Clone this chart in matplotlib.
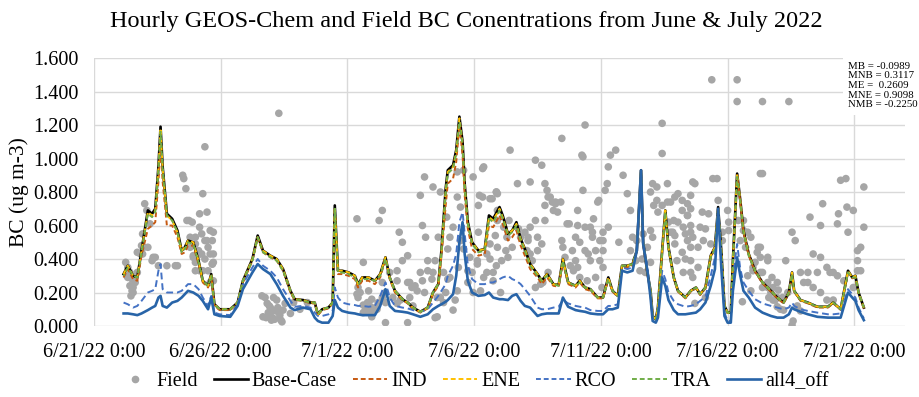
import matplotlib
matplotlib.use('Agg')
import matplotlib.pyplot as plt
import pandas as pd
from matplotlib.lines import Line2D

plt.rcParams['font.family'] = ['Liberation Serif', 'DejaVu Serif']

start = pd.Timestamp('2022-06-21 00:00')

# ---- model series (hours since 6/21/22 0:00) ----
model_hours = [28, 32, 37, 41, 45, 51, 55, 58, 61, 63,
               65, 69, 74, 79, 83, 86, 89, 94, 99, 103,
               108, 111, 114, 119, 129, 136, 141, 150, 155, 160,
               167, 173, 179, 186, 190, 198, 205, 209, 212, 216,
               222, 226, 228, 231, 235, 241, 247, 250, 254, 260,
               266, 271, 276, 280, 285, 292, 297, 302, 309, 316,
               321, 326, 329, 333, 335, 340, 343, 346, 349, 351,
               354, 358, 364, 370, 374, 378, 384, 387, 392, 396,
               400, 404, 408, 413, 420, 424, 429, 435, 440, 444,
               449, 456, 460, 465, 470, 477, 482, 487, 491, 496,
               500, 505, 510, 514, 518, 520, 524, 527, 529, 532,
               534, 538, 541, 544, 549, 553, 560, 565, 570, 574,
               579, 584, 588, 591, 594, 597, 600, 603, 605, 609,
               612, 615, 620, 626, 633, 641, 647, 653, 658, 661,
               663, 669, 676, 685, 695, 700, 707, 714, 718, 721,
               724, 729]

base_case = [0.31, 0.36, 0.30, 0.29, 0.45, 0.69, 0.67, 0.70, 0.95, 1.19,
             0.95, 0.67, 0.64, 0.57, 0.45, 0.47, 0.51, 0.50, 0.39, 0.27,
             0.24, 0.31, 0.13, 0.10, 0.10, 0.14, 0.27, 0.40, 0.54, 0.45,
             0.42, 0.40, 0.34, 0.21, 0.16, 0.155, 0.14, 0.14, 0.07, 0.10,
             0.11, 0.14, 0.72, 0.33, 0.33, 0.32, 0.30, 0.25, 0.29, 0.29,
             0.27, 0.31, 0.41, 0.29, 0.21, 0.16, 0.14, 0.11, 0.085, 0.11,
             0.20, 0.25, 0.45, 0.82, 0.93, 0.96, 1.05, 1.25, 1.10, 0.85,
             0.62, 0.50, 0.45, 0.46, 0.66, 0.64, 0.71, 0.66, 0.55, 0.57,
             0.62, 0.52, 0.46, 0.37, 0.31, 0.27, 0.31, 0.25, 0.245, 0.40,
             0.26, 0.24, 0.27, 0.23, 0.22, 0.17, 0.17, 0.29, 0.21, 0.18,
             0.36, 0.36, 0.37, 0.45, 0.93, 0.50, 0.32, 0.21, 0.06, 0.04,
             0.11, 0.45, 0.69, 0.47, 0.29, 0.21, 0.17, 0.21, 0.23, 0.19,
             0.23, 0.42, 0.47, 0.71, 0.45, 0.12, 0.08, 0.08, 0.39, 0.91,
             0.75, 0.57, 0.43, 0.33, 0.26, 0.21, 0.17, 0.14, 0.20, 0.32,
             0.21, 0.155, 0.14, 0.115, 0.115, 0.14, 0.10, 0.33, 0.29, 0.30,
             0.20, 0.11]

ind = [0.29, 0.34, 0.28, 0.27, 0.42, 0.58, 0.60, 0.62, 0.86, 1.08,
       0.86, 0.60, 0.60, 0.53, 0.43, 0.44, 0.48, 0.48, 0.37, 0.26,
       0.23, 0.30, 0.12, 0.095, 0.095, 0.135, 0.26, 0.39, 0.53, 0.44,
       0.41, 0.39, 0.33, 0.20, 0.155, 0.15, 0.135, 0.135, 0.065, 0.095,
       0.105, 0.135, 0.70, 0.31, 0.31, 0.30, 0.28, 0.23, 0.27, 0.27,
       0.25, 0.29, 0.40, 0.28, 0.20, 0.155, 0.135, 0.105, 0.08, 0.105,
       0.19, 0.24, 0.42, 0.72, 0.85, 0.88, 0.98, 1.20, 1.02, 0.78,
       0.58, 0.46, 0.42, 0.43, 0.60, 0.59, 0.66, 0.61, 0.51, 0.53,
       0.57, 0.48, 0.42, 0.34, 0.29, 0.25, 0.29, 0.24, 0.235, 0.38,
       0.25, 0.23, 0.26, 0.22, 0.21, 0.165, 0.165, 0.28, 0.205, 0.175,
       0.35, 0.35, 0.36, 0.44, 0.93, 0.49, 0.31, 0.205, 0.058, 0.04,
       0.105, 0.44, 0.68, 0.46, 0.285, 0.205, 0.165, 0.205, 0.225, 0.185,
       0.225, 0.41, 0.46, 0.70, 0.44, 0.115, 0.078, 0.078, 0.38, 0.90,
       0.74, 0.56, 0.42, 0.325, 0.255, 0.205, 0.165, 0.135, 0.195, 0.31,
       0.205, 0.15, 0.135, 0.11, 0.11, 0.135, 0.098, 0.32, 0.285, 0.29,
       0.195, 0.105]

ene = [0.31, 0.36, 0.30, 0.29, 0.45, 0.68, 0.66, 0.69, 0.94, 1.18,
       0.94, 0.66, 0.63, 0.56, 0.45, 0.47, 0.51, 0.50, 0.39, 0.27,
       0.24, 0.31, 0.13, 0.10, 0.10, 0.14, 0.27, 0.40, 0.53, 0.45,
       0.42, 0.40, 0.34, 0.21, 0.16, 0.155, 0.14, 0.14, 0.07, 0.10,
       0.11, 0.14, 0.71, 0.33, 0.33, 0.32, 0.30, 0.25, 0.29, 0.29,
       0.27, 0.31, 0.41, 0.29, 0.21, 0.16, 0.14, 0.11, 0.085, 0.11,
       0.20, 0.25, 0.44, 0.81, 0.92, 0.95, 1.04, 1.24, 1.09, 0.84,
       0.61, 0.50, 0.45, 0.46, 0.65, 0.63, 0.70, 0.65, 0.55, 0.57,
       0.61, 0.52, 0.46, 0.37, 0.31, 0.27, 0.31, 0.25, 0.245, 0.40,
       0.26, 0.24, 0.27, 0.23, 0.22, 0.17, 0.17, 0.29, 0.21, 0.18,
       0.36, 0.36, 0.37, 0.45, 0.93, 0.50, 0.32, 0.21, 0.06, 0.04,
       0.11, 0.45, 0.69, 0.47, 0.29, 0.21, 0.17, 0.21, 0.23, 0.19,
       0.23, 0.42, 0.47, 0.71, 0.45, 0.12, 0.08, 0.08, 0.39, 0.91,
       0.75, 0.57, 0.43, 0.33, 0.26, 0.21, 0.17, 0.14, 0.20, 0.32,
       0.21, 0.155, 0.14, 0.115, 0.115, 0.14, 0.10, 0.33, 0.29, 0.30,
       0.20, 0.11]

rco = [0.14, 0.13, 0.11, 0.12, 0.15, 0.20, 0.21, 0.22, 0.33, 0.37,
       0.22, 0.20, 0.20, 0.20, 0.21, 0.23, 0.25, 0.25, 0.22, 0.17,
       0.12, 0.18, 0.08, 0.07, 0.065, 0.13, 0.25, 0.35, 0.40, 0.36,
       0.33, 0.29, 0.22, 0.15, 0.115, 0.12, 0.11, 0.08, 0.06, 0.06,
       0.07, 0.09, 0.23, 0.17, 0.14, 0.13, 0.125, 0.12, 0.12, 0.115,
       0.12, 0.18, 0.26, 0.17, 0.12, 0.11, 0.105, 0.095, 0.085, 0.10,
       0.14, 0.18, 0.21, 0.25, 0.30, 0.36, 0.43, 0.62, 0.68, 0.55,
       0.36, 0.28, 0.25, 0.25, 0.26, 0.26, 0.28, 0.29, 0.30, 0.28,
       0.27, 0.25, 0.22, 0.18, 0.11, 0.10, 0.10, 0.11, 0.115, 0.155,
       0.135, 0.12, 0.115, 0.11, 0.095, 0.09, 0.09, 0.12, 0.12, 0.13,
       0.35, 0.34, 0.35, 0.46, 0.92, 0.50, 0.35, 0.20, 0.05, 0.035,
       0.07, 0.33, 0.28, 0.20, 0.15, 0.13, 0.115, 0.12, 0.13, 0.15,
       0.175, 0.30, 0.41, 0.70, 0.38, 0.08, 0.03, 0.03, 0.30, 0.49,
       0.34, 0.26, 0.21, 0.16, 0.135, 0.12, 0.11, 0.10, 0.11, 0.14,
       0.12, 0.10, 0.09, 0.08, 0.07, 0.07, 0.075, 0.22, 0.19, 0.17,
       0.11, 0.045]

tra = [0.30, 0.35, 0.30, 0.29, 0.44, 0.67, 0.65, 0.68, 0.93, 1.16,
       0.93, 0.66, 0.63, 0.56, 0.44, 0.46, 0.50, 0.49, 0.38, 0.27,
       0.24, 0.30, 0.13, 0.10, 0.10, 0.14, 0.27, 0.39, 0.53, 0.44,
       0.41, 0.39, 0.33, 0.21, 0.16, 0.15, 0.14, 0.14, 0.07, 0.10,
       0.11, 0.14, 0.70, 0.32, 0.32, 0.31, 0.29, 0.25, 0.28, 0.28,
       0.27, 0.30, 0.40, 0.29, 0.21, 0.16, 0.14, 0.11, 0.085, 0.11,
       0.20, 0.25, 0.44, 0.80, 0.91, 0.94, 1.03, 1.22, 1.08, 0.83,
       0.61, 0.49, 0.44, 0.45, 0.64, 0.62, 0.69, 0.64, 0.54, 0.56,
       0.60, 0.51, 0.45, 0.36, 0.30, 0.27, 0.30, 0.25, 0.24, 0.39,
       0.26, 0.24, 0.26, 0.23, 0.22, 0.17, 0.17, 0.28, 0.21, 0.18,
       0.36, 0.36, 0.37, 0.45, 0.93, 0.50, 0.32, 0.21, 0.06, 0.04,
       0.11, 0.44, 0.68, 0.46, 0.29, 0.21, 0.17, 0.21, 0.23, 0.19,
       0.23, 0.41, 0.46, 0.70, 0.45, 0.12, 0.08, 0.08, 0.38, 0.89,
       0.74, 0.56, 0.42, 0.33, 0.26, 0.21, 0.17, 0.14, 0.20, 0.31,
       0.21, 0.155, 0.14, 0.115, 0.115, 0.14, 0.10, 0.32, 0.29, 0.29,
       0.20, 0.11]

all4_off = [0.075, 0.075, 0.07, 0.065, 0.075, 0.095, 0.11, 0.12, 0.17, 0.18,
            0.12, 0.11, 0.14, 0.15, 0.17, 0.19, 0.21, 0.20, 0.18, 0.15,
            0.10, 0.17, 0.07, 0.06, 0.055, 0.12, 0.22, 0.32, 0.37, 0.34,
            0.31, 0.25, 0.18, 0.11, 0.095, 0.11, 0.10, 0.05, 0.03, 0.02,
            0.02, 0.06, 0.155, 0.11, 0.09, 0.08, 0.075, 0.07, 0.065, 0.065,
            0.065, 0.12, 0.22, 0.12, 0.09, 0.085, 0.08, 0.07, 0.055, 0.07,
            0.10, 0.12, 0.13, 0.145, 0.155, 0.19, 0.30, 0.50, 0.62, 0.43,
            0.27, 0.20, 0.18, 0.185, 0.20, 0.17, 0.16, 0.16, 0.155, 0.18,
            0.19, 0.15, 0.12, 0.11, 0.06, 0.07, 0.075, 0.075, 0.075, 0.17,
            0.115, 0.095, 0.09, 0.085, 0.075, 0.07, 0.07, 0.10, 0.10, 0.11,
            0.33, 0.32, 0.33, 0.45, 0.93, 0.49, 0.33, 0.17, 0.03, 0.02,
            0.05, 0.29, 0.24, 0.155, 0.095, 0.07, 0.07, 0.075, 0.08, 0.10,
            0.14, 0.24, 0.34, 0.70, 0.35, 0.06, 0.02, 0.02, 0.21, 0.41,
            0.30, 0.21, 0.17, 0.11, 0.08, 0.06, 0.05, 0.05, 0.07, 0.11,
            0.10, 0.085, 0.07, 0.055, 0.05, 0.05, 0.05, 0.20, 0.17, 0.15,
            0.095, 0.035]

# ---- field observations (hours since 6/21/22 0:00, BC) ----
field_hours = [30, 31, 32, 34, 34, 36, 37, 37, 39, 36, 41, 44, 46, 48, 50, 46, 53, 51, 56, 61,
               55, 58, 45, 47, 41, 77, 69, 79, 84, 85, 87, 88, 90, 93, 91, 96, 94, 100, 102, 103,
               105, 107, 108, 110, 108, 110, 113, 100, 98, 96, 102, 100, 105, 107, 96, 91, 99, 105, 110, 112,
               103, 96, 94, 113, 112, 113, 112, 113, 32, 35,
               159, 164, 167, 170, 173, 169, 165, 174, 160, 169, 176, 178, 181, 186, 174, 179, 162, 166, 175, 189,
               195, 202, 171, 177, 163, 168,
               249, 270, 273, 289, 292, 255, 249, 250, 252, 255, 259, 262, 257, 264, 268, 269, 263, 276, 273, 280,
               287, 283, 287, 292, 287, 250, 260, 255, 262, 268, 276, 276, 273, 263, 290, 299, 302, 297, 316, 323,
               309, 313, 321, 328, 311, 314, 326, 309, 316, 320, 306, 299, 297, 323, 328, 333, 344, 335, 337, 340,
               344, 350, 334, 344, 347, 347, 350, 354, 358, 354, 356, 363, 364, 365, 369, 377, 382, 375, 372, 378,
               372, 366, 385, 345, 331, 335, 337, 325, 331, 342, 340, 325, 313, 304, 301, 297, 311, 321, 368, 363,
               369, 359, 375, 381, 378, 368, 375, 381, 382, 364, 359,
               394, 418, 424, 462, 401, 413, 427, 429, 430, 434, 437, 439, 442, 435, 427, 381, 382, 380, 388, 391,
               396, 392, 390, 382, 386, 404, 408, 413, 418, 420, 410, 415, 420, 411, 448, 458, 465, 472, 456, 460,
               453, 444, 465, 446, 456, 451, 468, 443, 463, 473, 418, 423, 425, 458, 430, 460, 443, 463, 465, 458,
               393, 402, 411, 427, 413, 424, 432, 437, 450, 454, 467, 470, 478, 482, 484, 487, 489, 494, 486, 477,
               501, 505, 508, 487, 482, 497, 470, 472, 479, 482, 479, 475, 482, 475, 481, 510, 514, 520, 508, 513,
               519, 524, 529, 527, 517, 522, 527, 527, 529, 533, 533, 530, 534, 538, 538, 538, 543, 546, 550, 557,
               553, 557, 562, 549, 553, 558, 565, 546, 550, 562, 550, 557, 560, 565, 552, 558, 565, 543, 544, 548,
               569, 562,
               567, 586, 590, 633, 565, 562, 565, 576, 582, 591, 600, 601, 565, 574, 579, 560, 567, 577, 572, 565,
               584, 595, 601, 610, 615, 622, 617, 629, 631, 638, 626, 624, 619, 633, 642, 647, 638, 643, 648, 652,
               645, 639, 633, 655, 572, 567, 614, 622, 579, 569, 595, 585, 609, 609, 633, 658, 631, 615, 619, 612,
               628, 624, 631, 638, 631, 638, 641, 643, 647, 647, 653, 661, 662, 669, 661, 664, 678, 681, 688, 690,
               688, 694, 697, 700, 704, 685, 676, 669, 676, 681, 688, 694, 700, 704, 705, 707, 712, 713, 714, 719,
               723, 723, 726, 729, 729, 726, 723, 710, 719, 672, 657, 650, 666]

field_bc = [0.38, 0.30, 0.35, 0.32, 0.24, 0.28, 0.23, 0.20, 0.26, 0.21, 0.32, 0.43, 0.43, 0.73, 0.69, 0.55, 0.61, 0.47, 0.41, 0.36,
            0.39, 0.41, 0.48, 0.47, 0.44, 0.36, 0.36, 0.36, 0.90, 0.88, 0.82, 0.63, 0.63, 0.62, 0.53, 0.49, 0.42, 0.59, 0.55, 0.79,
            1.07, 0.51, 0.47, 0.57, 0.33, 0.26, 0.38, 0.67, 0.42, 0.33, 0.43, 0.33, 0.40, 0.68, 0.53, 0.47, 0.45, 0.51, 0.43, 0.37,
            0.33, 0.38, 0.41, 0.56, 0.51, 0.43, 0.37, 0.27, 0.29, 0.18,
            0.18, 0.135, 0.11, 0.17, 0.155, 0.09, 0.08, 0.085, 0.055, 0.05, 0.065, 0.025, 0.135, 0.075, 0.11, 0.095, 0.17, 0.12, 1.27, 0.14,
            0.10, 0.14, 0.04, 0.035, 0.05, 0.035,
            0.64, 0.63, 0.69, 0.56, 0.50, 0.38, 0.19, 0.17, 0.20, 0.125, 0.14, 0.115, 0.095, 0.085, 0.115, 0.14, 0.055, 0.02, 0.26, 0.32,
            0.27, 0.17, 0.33, 0.39, 0.135, 0.23, 0.21, 0.08, 0.08, 0.10, 0.20, 0.14, 0.17, 0.16, 0.155, 0.17, 0.12, 0.42, 0.39, 0.39,
            0.78, 0.89, 0.83, 0.80, 0.60, 0.53, 0.53, 0.32, 0.33, 0.28, 0.21, 0.26, 0.02, 0.05, 0.17, 0.20, 0.21, 0.46, 0.53, 0.59,
            0.92, 0.93, 0.65, 0.77, 0.71, 0.51, 0.46, 0.33, 0.32, 0.26, 0.41, 0.39, 0.72, 0.78, 0.95, 0.76, 0.79, 0.49, 0.43, 0.27,
            0.32, 0.21, 0.20, 0.35, 0.32, 0.28, 0.29, 0.17, 0.14, 0.155, 0.095, 0.055, 0.20, 0.24, 0.23, 0.26, 0.27, 0.32, 0.94, 0.37,
            0.29, 0.20, 0.40, 0.36, 0.32, 0.77, 0.76, 0.80, 0.69, 0.56, 0.89,
            1.05, 0.99, 0.96, 1.02, 0.85, 0.86, 0.85, 0.81, 0.77, 0.74, 0.74, 0.68, 0.74, 0.69, 0.72, 0.80, 0.63, 0.54, 0.59, 0.53,
            0.47, 0.41, 0.45, 0.47, 0.39, 0.53, 0.56, 0.59, 0.63, 0.53, 0.45, 0.39, 0.45, 0.51, 0.61, 0.60, 0.59, 0.56, 0.53, 0.50,
            0.45, 0.47, 0.45, 0.41, 0.39, 0.36, 0.43, 0.51, 0.81, 0.64, 0.23, 0.25, 0.26, 0.35, 0.32, 0.29, 1.12, 1.01, 1.20, 0.69,
            0.63, 0.58, 0.53, 0.63, 0.43, 0.49, 0.77, 0.73, 0.61, 0.33, 0.27, 0.39, 0.75, 0.51, 0.81, 0.95, 1.02, 1.05, 0.85, 0.74,
            0.90, 0.79, 0.69, 0.59, 0.56, 0.50, 0.59, 0.53, 0.51, 0.45, 0.39, 0.45, 0.35, 0.29, 0.23, 0.53, 0.51, 0.55, 0.45, 0.39,
            0.40, 0.47, 0.53, 0.57, 0.33, 0.32, 0.38, 0.80, 0.85, 0.83, 0.75, 0.72, 0.68, 0.72, 1.21, 1.03, 0.85, 0.74, 0.77, 0.75,
            0.79, 0.69, 0.66, 0.63, 0.62, 0.59, 0.56, 0.56, 0.54, 0.51, 0.49, 0.44, 0.40, 0.39, 0.39, 0.32, 0.32, 0.74, 0.62, 0.56,
            0.85, 0.66,
            0.86, 0.88, 0.88, 0.91, 0.78, 0.73, 0.70, 0.68, 0.67, 0.75, 0.69, 0.62, 0.60, 0.59, 0.58, 0.55, 0.53, 0.51, 0.47, 0.47,
            0.49, 0.56, 0.57, 0.63, 0.57, 0.53, 0.47, 0.47, 0.41, 0.41, 0.38, 0.33, 0.30, 0.32, 0.29, 0.26, 0.26, 0.23, 0.215, 0.17,
            0.155, 0.17, 0.23, 0.39, 0.35, 0.29, 0.145, 0.21, 0.17, 0.135, 0.51, 1.47, 1.47, 1.34, 1.34, 1.34, 0.91, 0.63, 0.56, 0.51,
            0.44, 0.35, 0.32, 0.39, 0.47, 0.23, 0.20, 0.155, 0.17, 0.115, 0.095, 0.005, 0.03, 0.09, 0.56, 0.51, 0.65, 0.43, 0.41, 0.73,
            0.60, 0.35, 0.32, 0.32, 0.30, 0.32, 0.32, 0.32, 0.26, 0.23, 0.20, 0.155, 0.155, 0.61, 0.67, 0.87, 0.88, 0.71, 0.56, 0.69,
            0.45, 0.39, 0.47, 0.59, 0.83, 0.33, 0.33, 0.27, 0.23, 0.26, 0.20, 0.10, 0.12]

tick_days = [0, 5, 10, 15, 20, 25, 30]
tick_labels = ['6/21/22 0:00', '6/26/22 0:00', '7/1/22 0:00', '7/6/22 0:00',
               '7/11/22 0:00', '7/16/22 0:00', '7/21/22 0:00']
y_ticks = [0.0, 0.2, 0.4, 0.6, 0.8, 1.0, 1.2, 1.4, 1.6]

stats_text = "MB = -0.0989\nMNB = 0.3117\nME =  0.2609\nMNE = 0.9098\nNMB = -0.2250"

t_model = start + pd.to_timedelta(model_hours, unit='h')
t_field = start + pd.to_timedelta(field_hours, unit='h')

fig = plt.figure(figsize=(9.19, 3.97), dpi=100)
ax = fig.add_axes([0.1023, 0.1788, 0.8825, 0.6751])

ax.scatter(t_field, field_bc, s=30, color='#A6A6A6', edgecolors='none', zorder=2, label='Field')
ax.plot(t_model, base_case, color='black', lw=1.9, zorder=3, label='Base-Case')
ax.plot(t_model, ind, color='#C65911', lw=1.4, ls=(0, (2.5, 1.5)), zorder=4, label='IND')
ax.plot(t_model, ene, color='#FFC000', lw=1.4, ls=(0, (2.5, 1.5)), zorder=5, label='ENE')
ax.plot(t_model, rco, color='#4472C4', lw=1.4, ls=(0, (3.5, 2)), zorder=4, label='RCO')
ax.plot(t_model, tra, color='#70AD47', lw=1.4, ls=(1.5, (2.5, 1.5)), zorder=5, label='TRA')
ax.plot(t_model, all4_off, color='#2864A8', lw=1.9, zorder=6, label='all4_off')

ax.set_xlim(start, start + pd.Timedelta(days=32))
ax.set_ylim(0, 1.6)
ax.set_xticks([start + pd.Timedelta(days=d) for d in tick_days])
ax.set_xticklabels(tick_labels, fontsize=14.5)
ax.set_yticks(y_ticks)
ax.set_yticklabels([f"{v:.3f}" for v in y_ticks], fontsize=14.5)
ax.tick_params(axis='x', length=0, pad=12)
ax.tick_params(axis='y', length=0, pad=11)
ax.grid(True, color='#D9D9D9', lw=1)
ax.set_axisbelow(True)
for s in ax.spines.values():
    s.set_visible(False)

ax.set_ylabel('BC (ug m-3)', fontsize=15.5, labelpad=3)
fig.text(0.507, 0.947, 'Hourly GEOS-Chem and Field BC Conentrations from June & July 2022',
         ha='center', va='center', fontsize=17.5)

fig.text(0.923, 0.845, stats_text, ha='left', va='top', fontsize=7.8, linespacing=1.1,
         bbox=dict(facecolor='white', edgecolor='none', pad=4))

handles = [Line2D([], [], marker='o', color='#A6A6A6', ls='none', markersize=4.5),
           Line2D([], [], color='black', lw=1.9),
           Line2D([], [], color='#C65911', lw=1.4, ls=(0, (2.5, 1.5))),
           Line2D([], [], color='#FFC000', lw=1.4, ls=(0, (2.5, 1.5))),
           Line2D([], [], color='#4472C4', lw=1.4, ls=(0, (2.5, 1.5))),
           Line2D([], [], color='#70AD47', lw=1.4, ls=(0, (2.5, 1.5))),
           Line2D([], [], color='#2864A8', lw=1.9)]
labels = ['Field', 'Base-Case', 'IND', 'ENE', 'RCO', 'TRA', 'all4_off']
fig.legend(handles, labels, loc='center', bbox_to_anchor=(0.515, 0.04), ncol=7, frameon=False,
           fontsize=14.5, handlelength=1.7, handletextpad=0.2, columnspacing=0.8)

fig.savefig('out.png', dpi=100)
